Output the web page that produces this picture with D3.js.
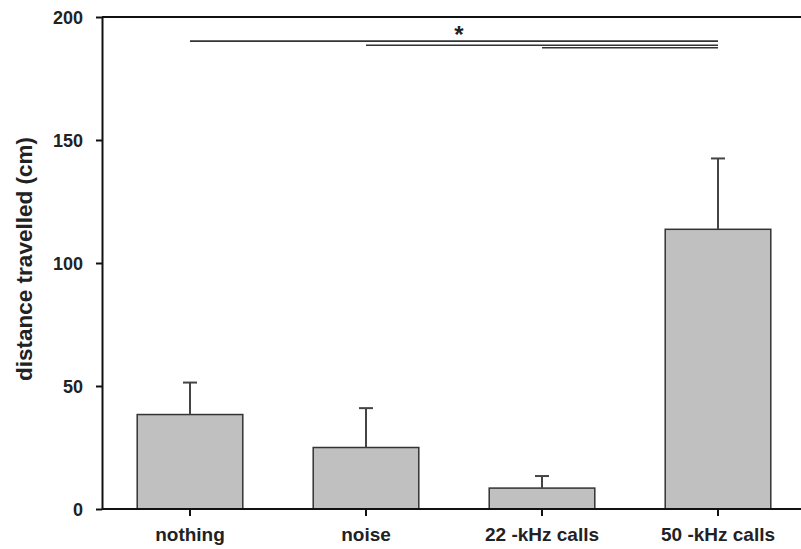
<!DOCTYPE html>
<html>
<head>
<meta charset="utf-8">
<script src="https://cdn.jsdelivr.net/npm/d3@7"></script>
<style>
  body { margin: 0; background: #fff; }
  text { font-family: "Liberation Sans", Arial, Helvetica, sans-serif; font-weight: bold; }
</style>
</head>
<body>
<div id="chart"></div>
<script>
// values
var groups = ['nothing', 'noise', '22 -kHz calls', '50 -kHz calls']
var means = [38.4, 25.0, 8.5, 113.7]
var errors = [13.0, 16.0, 4.9, 28.8]
var yTicks = [0, 50, 100, 150, 200]
// significance lines: [from group, to group]
var sigPairs = [[0, 3], [1, 3], [2, 3]]
var sigLevels = [190.2, 188.5, 187.5]

var width = 801, height = 549
var margin = {top: 17, left: 102, bottom: 40}

var svg = d3.select("#chart").append("svg")
    .attr("width", width)
    .attr("height", height)

var x = d3.scaleBand()
    .domain(groups)
    .range([margin.left, margin.left + 4 * 176])
    .paddingInner(0.4)
    .paddingOuter(0.2)

var y = d3.scaleLinear()
    .domain([0, 200])
    .range([height - margin.bottom, margin.top])

var data = groups.map((g, i) => ({group: g, mean: means[i], err: errors[i]}))

// bars
svg.selectAll(".bar")
    .data(data)
    .enter().append("rect")
    .attr("class", "bar")
    .attr("x", d => x(d.group))
    .attr("y", d => y(d.mean))
    .attr("width", x.bandwidth())
    .attr("height", d => y(0) - y(d.mean))
    .attr("fill", "#c0c0c0")
    .attr("stroke", "#333")
    .attr("stroke-width", 1.5)

// error bars (upper only)
var cx = d => x(d.group) + x.bandwidth() / 2
svg.selectAll(".err")
    .data(data)
    .enter().append("line")
    .attr("x1", cx).attr("x2", cx)
    .attr("y1", d => y(d.mean))
    .attr("y2", d => y(d.mean + d.err))
    .attr("stroke", "#444")
    .attr("stroke-width", 2)
svg.selectAll(".cap")
    .data(data)
    .enter().append("line")
    .attr("x1", d => cx(d) - 7).attr("x2", d => cx(d) + 7)
    .attr("y1", d => y(d.mean + d.err))
    .attr("y2", d => y(d.mean + d.err))
    .attr("stroke", "#444")
    .attr("stroke-width", 2)

// significance lines
sigPairs.forEach((p, i) => {
    svg.append("line")
        .attr("x1", cx(data[p[0]]))
        .attr("x2", cx(data[p[1]]))
        .attr("y1", y(sigLevels[i]))
        .attr("y2", y(sigLevels[i]))
        .attr("stroke", "#333")
        .attr("stroke-width", 1.6)
})
svg.append("text")
    .attr("x", 459)
    .attr("y", y(sigLevels[0]) + 2)
    .attr("text-anchor", "middle")
    .style("font-size", "24px")
    .attr("fill", "#222")
    .text("*")

// top frame line
svg.append("line")
    .attr("x1", margin.left).attr("x2", width + 5)
    .attr("y1", y(200)).attr("y2", y(200))
    .attr("stroke", "#111")
    .attr("stroke-width", 2)

// Y axis
var yAxis = svg.append("g")
    .attr("transform", "translate(" + margin.left + ",0)")
    .call(d3.axisLeft(y).tickValues(yTicks).tickSize(6).tickSizeOuter(0).tickPadding(13))
yAxis.selectAll("path, line").attr("stroke", "#111").attr("stroke-width", 2)
yAxis.selectAll("text").style("font-size", "18px").attr("fill", "#222").attr("dy", "0.36em")

// X axis
var xAxis = svg.append("g")
    .attr("transform", "translate(0," + y(0) + ")")
    .call(d3.axisBottom(x).tickSize(7).tickSizeOuter(0).tickPadding(12))
xAxis.select("path").attr("d", "M" + margin.left + ",0H" + (width + 5))
xAxis.selectAll("path, line").attr("stroke", "#111").attr("stroke-width", 2)
xAxis.selectAll("text").style("font-size", "19px").attr("fill", "#222")

// Y label
svg.append("text")
    .attr("transform", "translate(32,259) rotate(-90)")
    .attr("text-anchor", "middle")
    .style("font-size", "22.5px")
    .attr("fill", "#222")
    .text("distance travelled (cm)")
</script>
</body>
</html>
